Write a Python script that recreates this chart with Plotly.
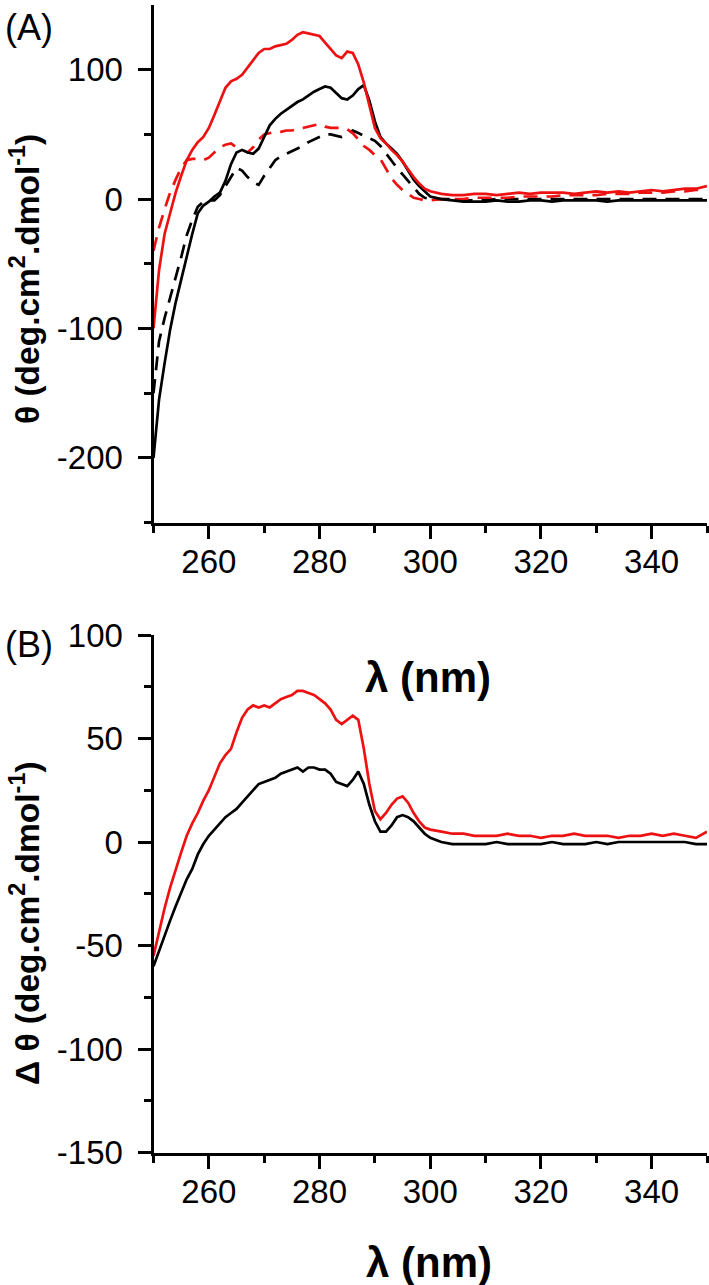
import plotly.graph_objects as go

# wavelength grid (nm)
wl = list(range(250, 301)) + list(range(302, 351, 2))

# Panel A: theta (deg.cm2.dmol-1)
a_black_solid = [-200, -155, -127, -101, -80, -62, -46, -27, -11, -5, -2, 2, 5, 14, 27, 36, 38, 36, 35, 39,
                 48, 57, 62, 66, 69, 72, 75, 77, 80, 83, 85, 87, 86, 82, 78, 77, 80, 85, 88, 76,
                 60, 48, 43, 39, 35, 29, 22, 15, 10, 6, 2,
                 0, -1, -2, -2, -2, -1, -2, -2, -1, -1, -2, -1, -1, -1, -1, -2, -1, -1, -1, -1, -1, -1, -1, -1, -1]
a_red_solid = [-100, -55, -27, -10, 5, 18, 30, 38, 44, 48, 55, 65, 76, 86, 91, 93, 96, 102, 108, 113,
               116, 116, 118, 119, 120, 123, 127, 129, 128, 127, 126, 121, 116, 111, 109, 114, 113, 104, 90, 72,
               55, 47, 43, 38, 34, 29, 23, 17, 12, 8, 6,
               4, 3, 3, 4, 4, 3, 4, 5, 4, 5, 5, 5, 4, 5, 6, 5, 6, 5, 6, 7, 6, 7, 8, 8, 10]
a_black_dash = [-150, -110, -92, -77, -62, -45, -28, -16, -6, -2, -1, -1, 3, 10, 18, 24, 22, 17, 13, 11,
                18, 24, 30, 33, 35, 37, 39, 41, 44, 46, 48, 50, 50, 49, 48, 50, 53, 51, 49, 47,
                45, 41, 35, 29, 24, 19, 14, 9, 4, 1, 0,
                0, 0, -1, -1, -1, 0, 0, 0, 0, 0, 0, 0, 0, 0, 0, 0, 0, 0, 0, 0, 0, 0, 0, 0, 0]
a_red_dash = [-40, -22, -8, 5, 15, 24, 30, 31, 31, 30, 32, 36, 40, 42, 43, 40, 38, 36, 40, 46,
              50, 51, 52, 52, 53, 53, 54, 55, 56, 57, 58, 56, 55, 55, 55, 54, 51, 46, 41, 38,
              34, 31, 24, 16, 11, 7, 4, 1, 0, -1, -1,
              0, 0, 0, 1, 1, 1, 1, 2, 2, 2, 2, 3, 3, 3, 3, 4, 4, 4, 5, 5, 5, 6, 6, 7, 7]

# Panel B: delta theta
b_black = [-60, -53, -45, -38, -31, -24, -18, -13, -6, -1, 3, 6, 9, 12, 14, 16, 19, 22, 25, 28,
           29, 30, 31, 33, 34, 35, 36, 34, 36, 36, 35, 35, 33, 29, 28, 27, 30, 34, 28, 18,
           10, 5, 5, 8, 12, 13, 12, 10, 7, 4, 2,
           0, -1, -1, -1, -1, 0, -1, -1, -1, -1, 0, -1, -1, -1, 0, -1, 0, 0, 0, 0, 0, 0, 0, -1, -1]
b_red = [-55, -43, -32, -22, -13, -5, 3, 9, 14, 20, 25, 32, 38, 42, 45, 53, 60, 64, 66, 65,
         66, 65, 67, 69, 70, 71, 73, 73, 72, 71, 69, 67, 64, 59, 57, 59, 61, 59, 45, 28,
         15, 11, 14, 18, 21, 22, 19, 14, 10, 7, 6,
         5, 4, 4, 3, 3, 3, 4, 3, 3, 2, 3, 3, 4, 3, 3, 3, 2, 3, 3, 4, 3, 4, 3, 2, 5]

x_ticks = [260, 280, 300, 320, 340]
ya_ticks = [-200, -100, 0, 100]
yb_ticks = [-150, -100, -50, 0, 50, 100]

W, H = 709, 1285
def px(x):
    return x / W
def py(y):
    return 1 - y / H

RED = "#ee1111"
LW = 2.7
DASH = "14px,9px"

fig = go.Figure()
fig.add_trace(go.Scatter(x=wl, y=a_black_dash, mode="lines", line=dict(color="black", width=LW, dash=DASH), xaxis="x", yaxis="y"))
fig.add_trace(go.Scatter(x=wl, y=a_red_dash, mode="lines", line=dict(color=RED, width=LW, dash=DASH), xaxis="x", yaxis="y"))
fig.add_trace(go.Scatter(x=wl, y=a_black_solid, mode="lines", line=dict(color="black", width=LW), xaxis="x", yaxis="y"))
fig.add_trace(go.Scatter(x=wl, y=a_red_solid, mode="lines", line=dict(color=RED, width=LW), xaxis="x", yaxis="y"))
fig.add_trace(go.Scatter(x=wl, y=b_black, mode="lines", line=dict(color="black", width=LW), xaxis="x2", yaxis="y2"))
fig.add_trace(go.Scatter(x=wl, y=b_red, mode="lines", line=dict(color=RED, width=LW), xaxis="x2", yaxis="y2"))

FONT = "Arial, Liberation Sans, sans-serif"
tickfont = dict(family=FONT, size=33, color="black")

def lbl(v):
    return ("-" if v < 0 else "") + str(abs(v))

def xax(anchor, domain):
    return dict(domain=domain, anchor=anchor, range=[250, 350], showline=True, linewidth=3, linecolor="black",
                ticks="outside", ticklen=13, tickwidth=3, tickcolor="black",
                tickmode="array", tickvals=x_ticks, ticktext=[lbl(v) for v in x_ticks],
                minor=dict(tickvals=[250, 270, 290, 310, 330, 350], ticks="outside", ticklen=7, tickwidth=3, tickcolor="black"),
                showgrid=False, zeroline=False, tickfont=tickfont, fixedrange=True, automargin=False,
                ticklabelstandoff=-5)

def yax(anchor, domain, rng, tv, minor_tv):
    return dict(domain=domain, anchor=anchor, range=rng, showline=True, linewidth=3, linecolor="black",
                ticks="outside", ticklen=13, tickwidth=3, tickcolor="black",
                tickmode="array", tickvals=tv, ticktext=[lbl(v) for v in tv],
                minor=dict(tickvals=minor_tv, ticks="outside", ticklen=7, tickwidth=3, tickcolor="black"),
                showgrid=False, zeroline=False, tickfont=tickfont, fixedrange=True, automargin=False,
                ticklabelstandoff=8)

xdom = [153.5 / W, 707 / W]
fig.update_layout(
    width=W, height=H, margin=dict(l=0, r=0, t=0, b=0, autoexpand=False),
    paper_bgcolor="white", plot_bgcolor="white", showlegend=False,
    xaxis=xax("y", xdom),
    yaxis=yax("x", [py(522.5), py(5)], [-250, 150], ya_ticks, [-250, -150, -50, 50]),
    xaxis2=xax("y2", xdom),
    yaxis2=yax("x2", [py(1152.5), py(635)], [-150, 100], yb_ticks, [-125, -75, -25, 25, 75]),
)

ann = [
    dict(text="(A)", x=px(29), y=py(27), size=36, angle=0),
    dict(text="(B)", x=px(29), y=py(644), size=36, angle=0),
    dict(text="<b>θ (deg.cm<sup>2</sup>.dmol<sup>-1</sup>)</b>", x=px(25), y=py(279), size=33.5, angle=-90),
    dict(text="<b>Δ θ (deg.cm<sup>2</sup>.dmol<sup>-1</sup>)</b>", x=px(25), y=py(923), size=33.5, angle=-90),
    dict(text="<b>λ (nm)</b>", x=px(428), y=py(677), size=42, angle=0),
    dict(text="<b>λ (nm)</b>", x=px(429), y=py(1262), size=42, angle=0),
]
for a in ann:
    fig.add_annotation(text=a["text"], x=a["x"], y=a["y"], xref="paper", yref="paper",
                       xanchor="center", yanchor="middle", showarrow=False, textangle=a["angle"],
                       font=dict(family=FONT, size=a["size"], color="black"))

fig.write_html("out.html", config={"displayModeBar": False},
               post_script="document.body.style.margin='0';document.body.style.overflow='hidden';")
